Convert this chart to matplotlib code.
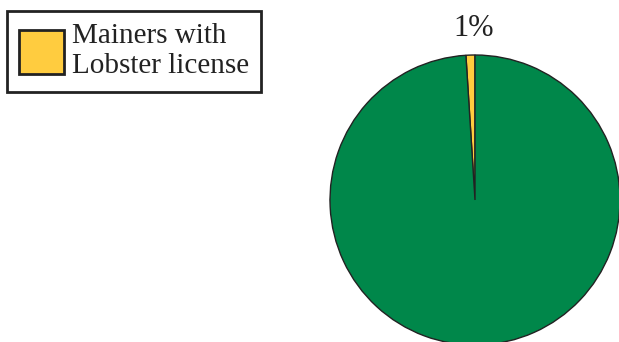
import matplotlib
matplotlib.use('Agg')
import matplotlib.pyplot as plt

categories = ['Mainers with\nLobster license', 'Other Mainers']
shares = [1, 99]
colors = ['#FFCC3F', '#00874A']

plt.rcParams['font.family'] = ['Liberation Serif', 'DejaVu Serif']

fig = plt.figure(figsize=(6.19, 3.42), dpi=100)

# pie axes: centre ~ (475, 200) px, radius ~145 px
W, H = 619, 342
ax = fig.add_axes([330 / W, (H - 345) / H, 290 / W, 290 / H])
wedges, _ = ax.pie(shares, colors=colors, startangle=90, counterclock=True,
                   radius=1, wedgeprops=dict(edgecolor='#222222', linewidth=1.0))
ax.set_xlim(-1, 1)
ax.set_ylim(-1, 1)
ax.set_aspect('auto')

ax.text(-0.01, 1.18, f'{shares[0]}%', ha='center', va='center', fontsize=22,
        color='#222222')

leg = fig.legend(handles=[wedges[0]], labels=[categories[0]], loc='upper left',
                 bbox_to_anchor=(7 / W, 1 - 11 / H), fontsize=21,
                 frameon=True, fancybox=False, edgecolor='#222222', framealpha=1,
                 handlelength=1.55, handleheight=1.95, handletextpad=0.25,
                 borderpad=0.42, borderaxespad=0)
leg.get_frame().set_linewidth(2)
for t in leg.get_texts():
    t.set_color('#222222')
    t.set_linespacing(1.2)
for h in leg.legend_handles:
    h.set_linewidth(2)

fig.savefig('out.png', dpi=100)
